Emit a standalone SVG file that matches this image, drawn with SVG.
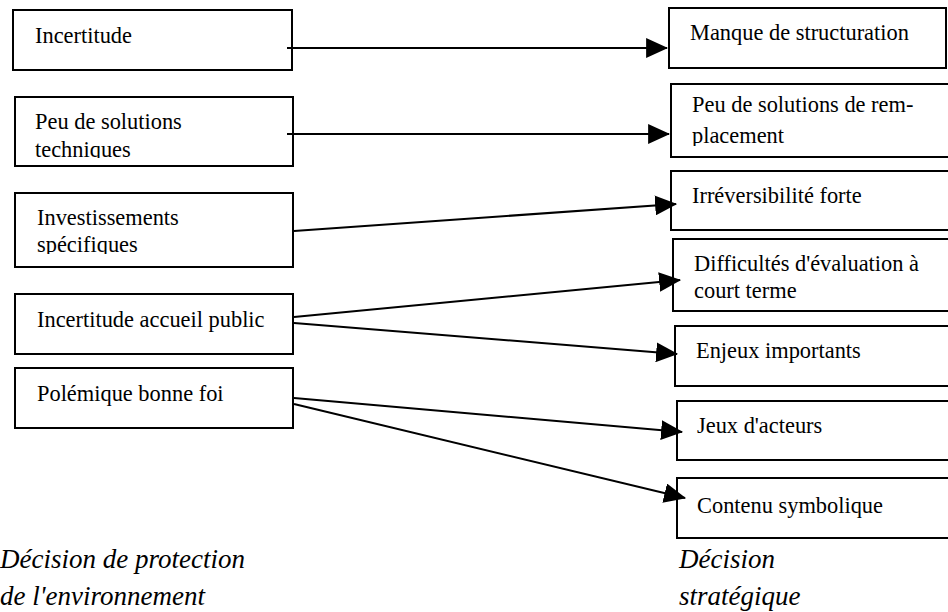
<svg xmlns="http://www.w3.org/2000/svg" width="948" height="612" viewBox="0 0 948 612">
  <style>
    .box { fill: #fff; stroke: #000; stroke-width: 2; }
    .lbl { font-family: "Liberation Serif", "DejaVu Serif", serif; font-size: 22.4px; fill: #000; }
    .cap { font-family: "Liberation Serif", "DejaVu Serif", serif; font-size: 27px; font-style: italic; fill: #000; }
    .link { fill: none; stroke: #000; stroke-width: 2; }
  </style>
  <defs>
    <marker id="arrow" markerUnits="userSpaceOnUse" markerWidth="22" markerHeight="20" viewBox="0 0 20 18" refX="19" refY="9" orient="auto">
      <path d="M0,0 L20,9 L0,18 Z" fill="#000"/>
    </marker>
    <!-- text areas that cut off the last line of wrapped labels -->
    <clipPath id="clip-tech"><rect x="15" y="97" width="278" height="61"/></clipPath>
    <clipPath id="clip-spec"><rect x="15" y="193" width="278" height="61"/></clipPath>
    <clipPath id="clip-repl"><rect x="671" y="84" width="280" height="62"/></clipPath>
  </defs>
  <rect width="948" height="612" fill="#fff"/>

  <!-- environmental protection decision factors -->
  <g id="incertitude">
    <rect class="box" x="13" y="10" width="279" height="60"/>
    <text class="lbl" x="35" y="43">Incertitude</text>
  </g>
  <g id="peu-solutions-techniques">
    <rect class="box" x="15" y="97" width="278" height="69"/>
    <g clip-path="url(#clip-tech)">
      <text class="lbl" x="35" y="129">Peu de solutions</text>
      <text class="lbl" x="35" y="157">techniques</text>
    </g>
  </g>
  <g id="investissements-specifiques">
    <rect class="box" x="15" y="193" width="278" height="74"/>
    <g clip-path="url(#clip-spec)">
      <text class="lbl" x="37" y="225">Investissements</text>
      <text class="lbl" x="37" y="252">spécifiques</text>
    </g>
  </g>
  <g id="incertitude-accueil-public">
    <rect class="box" x="15" y="294" width="278" height="60"/>
    <text class="lbl" x="37" y="327">Incertitude accueil public</text>
  </g>
  <g id="polemique-bonne-foi">
    <rect class="box" x="15" y="368" width="278" height="60"/>
    <text class="lbl" x="37" y="401">Polémique bonne foi</text>
  </g>

  <!-- strategic decision characteristics -->
  <g id="manque-structuration">
    <rect class="box" x="669" y="8" width="277" height="60"/>
    <text class="lbl" x="690" y="40">Manque de structuration</text>
  </g>
  <g id="peu-solutions-remplacement">
    <rect class="box" x="671" y="84" width="290" height="73"/>
    <g clip-path="url(#clip-repl)">
      <text class="lbl" x="692" y="112">Peu de solutions de rem-</text>
      <text class="lbl" x="692" y="143">placement</text>
    </g>
  </g>
  <g id="irreversibilite">
    <rect class="box" x="671" y="171" width="290" height="59"/>
    <text class="lbl" x="692" y="203">Irréversibilité forte</text>
  </g>
  <g id="difficultes-evaluation">
    <rect class="box" x="673" y="239" width="290" height="72"/>
    <text class="lbl" x="694" y="271">Difficultés d'évaluation à</text>
    <text class="lbl" x="694" y="298">court terme</text>
  </g>
  <g id="enjeux-importants">
    <rect class="box" x="675" y="326" width="290" height="60"/>
    <text class="lbl" x="696" y="358">Enjeux importants</text>
  </g>
  <g id="jeux-acteurs">
    <rect class="box" x="677" y="401" width="290" height="59"/>
    <text class="lbl" x="697" y="433">Jeux d'acteurs</text>
  </g>
  <g id="contenu-symbolique">
    <rect class="box" x="677" y="478" width="290" height="60"/>
    <text class="lbl" x="697" y="513">Contenu symbolique</text>
  </g>

  <!-- connectors -->
  <g id="connectors">
    <line class="link" x1="287" y1="48" x2="667" y2="48" marker-end="url(#arrow)"/>
    <line class="link" x1="287" y1="134" x2="669" y2="134" marker-end="url(#arrow)"/>
    <line class="link" x1="294" y1="231" x2="676" y2="204" marker-end="url(#arrow)"/>
    <line class="link" x1="294" y1="317" x2="680" y2="280" marker-end="url(#arrow)"/>
    <line class="link" x1="294" y1="323" x2="677" y2="354" marker-end="url(#arrow)"/>
    <line class="link" x1="294" y1="398" x2="682" y2="432" marker-end="url(#arrow)"/>
    <line class="link" x1="294" y1="404" x2="685" y2="498" marker-end="url(#arrow)"/>
  </g>

  <!-- column captions -->
  <g id="captions">
    <text class="cap" x="0" y="568">Décision de protection</text>
    <text class="cap" x="0" y="605">de l'environnement</text>
    <text class="cap" x="679" y="568">Décision</text>
    <text class="cap" x="679" y="605">stratégique</text>
  </g>
</svg>
